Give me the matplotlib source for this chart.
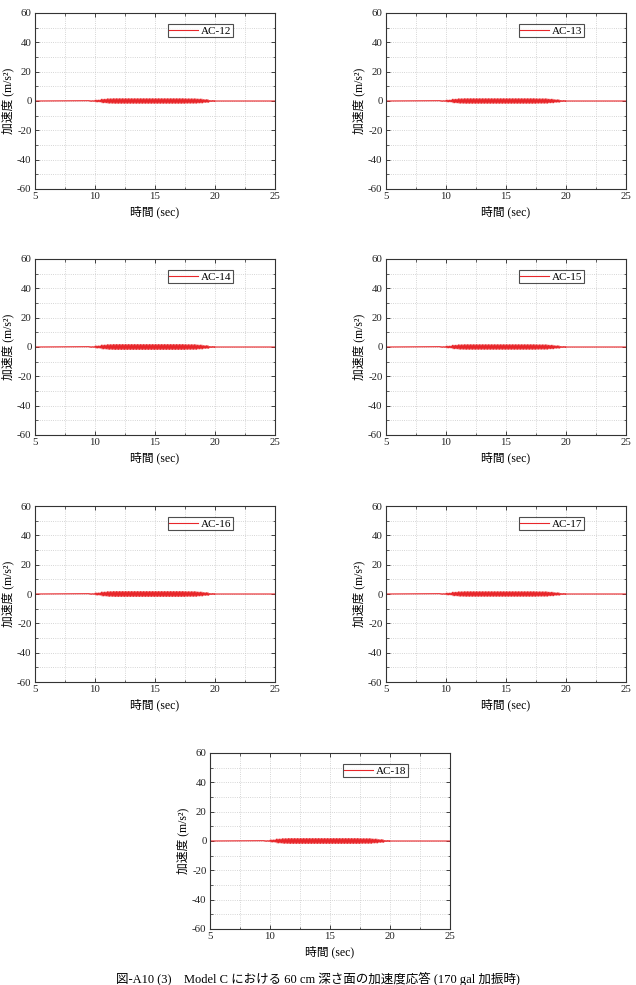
import numpy as np
import matplotlib
matplotlib.use("Agg")
import matplotlib.pyplot as plt
from matplotlib.ticker import MultipleLocator

plt.rcParams['font.family'] = ['Liberation Serif', 'Noto Sans CJK JP']
plt.rcParams['axes.unicode_minus'] = False

# sensors shown in this page
names = ["AC-12", "AC-13", "AC-14", "AC-15", "AC-16", "AC-17", "AC-18"]

# peak amplitude (m/s2) of each 0.5 s segment from 9.5 s to 20 s
seg_start = [9.5, 10.0, 10.5, 11.0, 11.5, 12.0, 12.5, 13.0, 13.5, 14.0, 14.5,
             15.0, 15.5, 16.0, 16.5, 17.0, 17.5, 18.0, 18.5, 19.0, 19.5]
amp_ac12 = [0.2, 0.6, 1.2, 1.5, 1.6, 1.6, 1.6, 1.6, 1.6, 1.6, 1.6,
            1.6, 1.6, 1.6, 1.6, 1.6, 1.5, 1.5, 1.3, 0.9, 0.3]
amp_ac13 = [0.2, 0.6, 1.2, 1.5, 1.6, 1.6, 1.6, 1.6, 1.6, 1.6, 1.6,
            1.6, 1.6, 1.6, 1.6, 1.6, 1.5, 1.5, 1.2, 0.8, 0.3]
amp_ac14 = [0.2, 0.7, 1.3, 1.6, 1.7, 1.7, 1.7, 1.7, 1.7, 1.7, 1.7,
            1.7, 1.7, 1.7, 1.7, 1.7, 1.6, 1.6, 1.3, 0.9, 0.3]
amp_ac15 = [0.2, 0.6, 1.2, 1.5, 1.6, 1.6, 1.6, 1.6, 1.6, 1.6, 1.6,
            1.6, 1.6, 1.6, 1.6, 1.6, 1.5, 1.5, 1.2, 0.8, 0.3]
amp_ac16 = [0.2, 0.7, 1.3, 1.6, 1.7, 1.7, 1.7, 1.7, 1.7, 1.7, 1.7,
            1.7, 1.7, 1.7, 1.7, 1.7, 1.6, 1.6, 1.3, 0.9, 0.3]
amp_ac17 = [0.2, 0.6, 1.2, 1.5, 1.6, 1.6, 1.6, 1.6, 1.6, 1.6, 1.6,
            1.6, 1.6, 1.6, 1.6, 1.6, 1.5, 1.5, 1.2, 0.8, 0.3]
amp_ac18 = [0.2, 0.7, 1.3, 1.6, 1.7, 1.7, 1.7, 1.7, 1.7, 1.7, 1.7,
            1.7, 1.7, 1.7, 1.7, 1.7, 1.6, 1.6, 1.3, 0.9, 0.3]
amps = [amp_ac12, amp_ac13, amp_ac14, amp_ac15, amp_ac16, amp_ac17, amp_ac18]

peaks_per_seg = 8  # dense excitation, peaks per 0.5 s
t_start, t_end = 5.0, 25.0

caption = "図-A10 (3)　Model C における 60 cm 深さ面の加速度応答 (170 gal 加振時)"

W, H = 636, 985
fig = plt.figure(figsize=(W / 100, H / 100), dpi=100)

# axes boxes in pixels: left, top (width/height shared)
boxes = [(35, 13), (386, 13), (35, 259), (386, 259), (35, 506), (386, 506), (210, 753)]
aw, ah = 240, 176


def make_wave(amp):
    t = [t_start]
    y = [0.0]
    sign = 1
    for s, a in zip(seg_start, amp):
        for k in range(peaks_per_seg):
            t.append(s + (k + 0.5) * 0.5 / peaks_per_seg)
            y.append(sign * a)
            sign = -sign
    t.append(seg_start[-1] + 0.5)
    y.append(0.0)
    t.append(t_end)
    y.append(0.0)
    return t, y


for name, amp, (px, py) in zip(names, amps, boxes):
    ax = fig.add_axes([px / W, 1 - (py + ah) / H, aw / W, ah / H])
    t, y = make_wave(amp)
    ax.plot(t, y, color="#e8262a", lw=0.8, label=name)
    ax.set_xlim(5, 25)
    ax.set_ylim(-60, 60)
    ax.xaxis.set_major_locator(MultipleLocator(5))
    ax.xaxis.set_minor_locator(MultipleLocator(2.5))
    ax.yaxis.set_major_locator(MultipleLocator(20))
    ax.yaxis.set_minor_locator(MultipleLocator(10))
    ax.grid(which="both", color="#c8c8c8", ls=":", lw=0.6)
    ax.tick_params(which="both", direction="in", top=True, right=True,
                   labelsize=7.8, colors="#222222", pad=2.5)
    ax.tick_params(which="major", length=3, width=0.6)
    ax.tick_params(which="minor", length=1.8, width=0.5)
    for sp in ax.spines.values():
        sp.set_linewidth(0.8)
        sp.set_color("#333333")
    ax.set_xlabel("時間 (sec)", fontsize=8.5, labelpad=3)
    ax.set_ylabel("加速度 (m/s²)", fontsize=8.5, labelpad=2)
    leg = ax.legend(loc="upper right", bbox_to_anchor=(0.825, 0.935),
                    fontsize=8, frameon=True, fancybox=False,
                    handlelength=2.6, handletextpad=0.3, borderpad=0.12,
                    borderaxespad=0)
    leg.get_frame().set_edgecolor("#222222")
    leg.get_frame().set_linewidth(0.8)

fig.text(318 / W, 1 - 979 / H, caption, ha="center", va="center", fontsize=9)

fig.savefig("out.png", dpi=100)
